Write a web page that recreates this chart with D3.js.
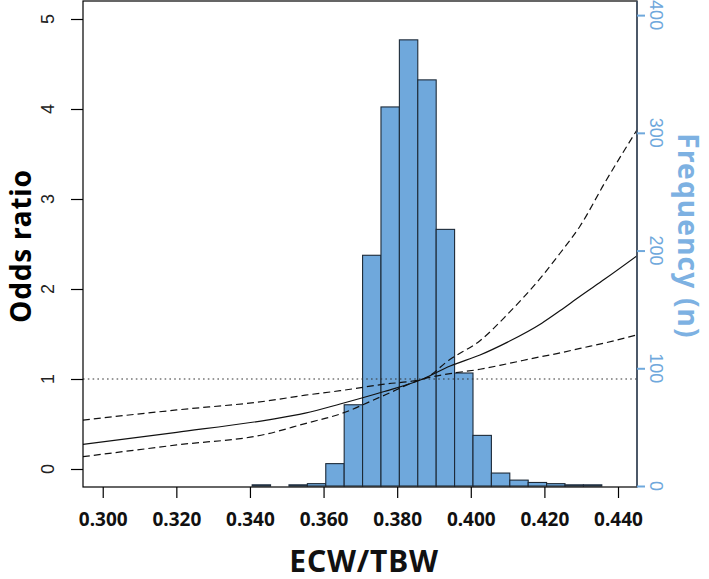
<!DOCTYPE html>
<html>
<head>
<meta charset="utf-8">
<script src="https://cdn.jsdelivr.net/npm/d3@7"></script>
<style>
  html, body { margin: 0; padding: 0; background: #fff; }
  svg { display: block; }
</style>
</head>
<body>
<svg id="chart" width="709" height="579"></svg>
<script>
// ---- data ----
const binStarts = [0.3406, 0.3456, 0.3506, 0.3556, 0.3606, 0.3656, 0.3706, 0.3756, 0.3806, 0.3856,
                   0.3906, 0.3956, 0.4006, 0.4056, 0.4106, 0.4156, 0.4206, 0.4256, 0.4306];
const binWidth = 0.005;
const binCounts = [1, 0, 1, 2, 19, 69, 196, 322, 379, 345, 218, 96, 43, 11, 5, 3, 2, 1, 1];

const curveX = [0.2946, 0.3201, 0.3446, 0.3550, 0.3645, 0.3760, 0.3870, 0.3944, 0.4025, 0.4100,
                0.4193, 0.4243, 0.4297, 0.4364, 0.4452];
const orEst   = [0.274, 0.408, 0.544, 0.620, 0.722, 0.855, 1.000, 1.145, 1.267, 1.410,
                 1.620, 1.760, 1.920, 2.110, 2.370];
const orUpper = [0.544, 0.656, 0.756, 0.820, 0.870, 0.940, 1.000, 1.220, 1.426, 1.720,
                 2.140, 2.400, 2.700, 3.180, 3.770];
const orLower = [0.137, 0.267, 0.389, 0.505, 0.611, 0.810, 1.000, 1.060, 1.108, 1.170,
                 1.250, 1.290, 1.340, 1.400, 1.490];

const xTicks = [0.30, 0.32, 0.34, 0.36, 0.38, 0.40, 0.42, 0.44];
const orTicks = [0, 1, 2, 3, 4, 5];
const freqTicks = [0, 100, 200, 300, 400];
const refOR = 1;

const xTitle = "ECW/TBW";
const yLeftTitle = "Odds ratio";
const yRightTitle = "Frequency (n)";

// ---- layout ----
const svg = d3.select("#chart");
const L = 83, R = 637, T = 1, B = 487;
const blue = "#6fa8dc";
const blueText = "#7db1e2";

const x = d3.scaleLinear().domain([0.29464, 0.44516]).range([L, R]);
const yL = d3.scaleLinear().domain([-0.2, 5.2]).range([B, T]);
const yR = d3.scaleLinear().domain([0, 412]).range([486, T]);

svg.append("defs").append("clipPath").attr("id", "plotclip")
  .append("rect").attr("x", L).attr("y", T).attr("width", R - L).attr("height", B - T);

// histogram
const bins = binStarts.map((s, i) => ({ x0: s, x1: s + binWidth, n: binCounts[i] }));
svg.append("g").selectAll("rect").data(bins).join("rect")
  .attr("x", d => x(d.x0))
  .attr("width", d => x(d.x1) - x(d.x0))
  .attr("y", d => yR(d.n))
  .attr("height", d => yR(0) - yR(d.n))
  .attr("fill", blue)
  .attr("stroke", "#1d2a38")
  .attr("stroke-width", 1.1);

// reference dotted line
const gl = svg.append("g").attr("clip-path", "url(#plotclip)");
gl.append("line")
  .attr("x1", L).attr("x2", R)
  .attr("y1", yL(refOR)).attr("y2", yL(refOR))
  .attr("stroke", "#333").attr("stroke-width", 1.1)
  .attr("stroke-dasharray", "1.6,3.2");

const mk = arr => d3.line().curve(d3.curveMonotoneX)
  .x((d, i) => x(curveX[i])).y(d => yL(d))(arr);
gl.append("path").attr("d", mk(orUpper)).attr("fill", "none")
  .attr("stroke", "#111").attr("stroke-width", 1.2).attr("stroke-dasharray", "7,4");
gl.append("path").attr("d", mk(orLower)).attr("fill", "none")
  .attr("stroke", "#111").attr("stroke-width", 1.2).attr("stroke-dasharray", "7,4");
gl.append("path").attr("d", mk(orEst)).attr("fill", "none")
  .attr("stroke", "#111").attr("stroke-width", 1.2);

// box
svg.append("rect").attr("x", L).attr("y", T).attr("width", R - L).attr("height", B - T)
  .attr("fill", "none").attr("stroke", "#000").attr("stroke-width", 1.2);
svg.append("line").attr("x1", R).attr("x2", R).attr("y1", T).attr("y2", B)
  .attr("stroke", "#46566a").attr("stroke-width", 1.6);

// x axis
const gx = svg.append("g").attr("transform", `translate(0,${B})`)
  .call(d3.axisBottom(x).tickValues(xTicks).tickSize(11).tickPadding(15).tickFormat(d3.format(".3f")));
gx.select(".domain").remove();
gx.selectAll(".tick line").attr("stroke", "#000").attr("stroke-width", 1.2);
gx.selectAll(".tick text")
  .attr("font-family", "'Noto Sans', 'Open Sans', sans-serif")
  .attr("font-weight", "bold").attr("font-size", 19).attr("fill", "#111");

// left axis
const gyl = svg.append("g").attr("transform", `translate(${L},0)`)
  .call(d3.axisLeft(yL).tickValues(orTicks).tickSize(12).tickFormat(""));
gyl.select(".domain").remove();
gyl.selectAll(".tick line").attr("stroke", "#000").attr("stroke-width", 1.2);
svg.append("g").selectAll("text").data(orTicks).join("text")
  .attr("transform", d => `translate(53.5,${yL(d)}) rotate(-90)`)
  .attr("text-anchor", "middle")
  .attr("font-family", "'Liberation Sans', Arial, sans-serif")
  .attr("font-size", 18).attr("fill", "#222")
  .text(d => d);

// right axis
const gyr = svg.append("g").attr("transform", `translate(${R},0)`)
  .call(d3.axisRight(yR).tickValues(freqTicks).tickSize(8).tickFormat(""));
gyr.select(".domain").remove();
gyr.selectAll(".tick line").attr("stroke", blue).attr("stroke-width", 2);
svg.append("g").selectAll("text").data(freqTicks).join("text")
  .attr("transform", d => `translate(650,${yR(d)}) rotate(90)`)
  .attr("text-anchor", "middle")
  .attr("font-family", "'Liberation Sans', Arial, sans-serif")
  .attr("font-size", 18).attr("fill", blue)
  .text(d => d);

// titles
svg.append("text")
  .attr("x", (L + R) / 2 + 4).attr("y", 571.5)
  .attr("text-anchor", "middle")
  .attr("font-family", "'Noto Sans', 'Open Sans', sans-serif")
  .attr("font-weight", "bold").attr("font-size", 30).attr("fill", "#111")
  .attr("letter-spacing", 0.8)
  .text(xTitle);

svg.append("text")
  .attr("transform", `translate(30.5,246) rotate(-90)`)
  .attr("text-anchor", "middle")
  .attr("font-family", "'Noto Sans', 'Open Sans', sans-serif")
  .attr("font-weight", "bold").attr("font-size", 28).attr("fill", "#000")
  .attr("letter-spacing", 0.8)
  .text(yLeftTitle);

svg.append("text")
  .attr("transform", `translate(678,236) rotate(90)`)
  .attr("text-anchor", "middle")
  .attr("font-family", "'Noto Sans', 'Open Sans', sans-serif")
  .attr("font-weight", "bold").attr("font-size", 28).attr("fill", blueText)
  .attr("letter-spacing", 1.2)
  .text(yRightTitle);
</script>
</body>
</html>
